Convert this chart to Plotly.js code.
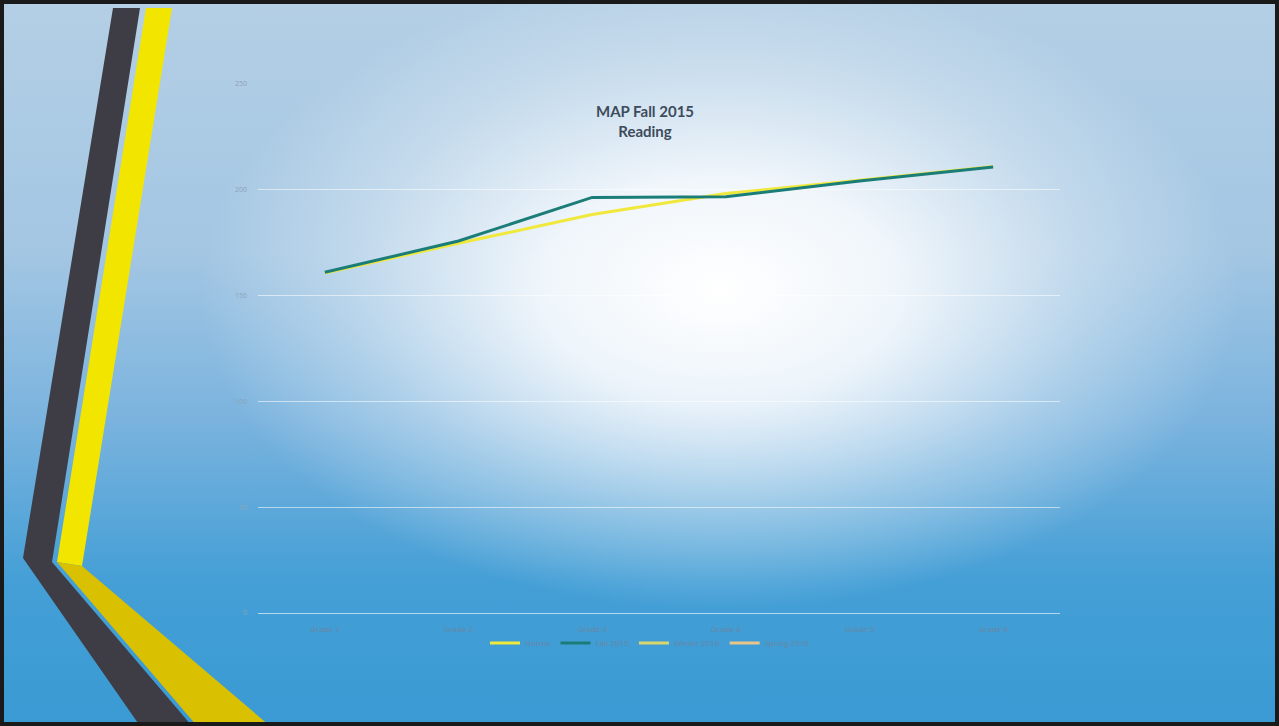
<!DOCTYPE html>
<html>
<head>
<meta charset="utf-8">
<script src="https://cdn.plot.ly/plotly-3.0.1.min.js"></script>
<style>
  html, body { margin: 0; padding: 0; width: 1279px; height: 726px; overflow: hidden; background: #111; }
  #wrap { position: absolute; left: 0; top: 0; width: 1279px; height: 726px;
    background:
      radial-gradient(ellipse 520px 320px at 720px 290px, rgba(255,255,255,1) 0%, rgba(250,252,254,0.88) 35%, rgba(240,246,250,0.4) 70%, rgba(255,255,255,0) 100%),
      linear-gradient(to bottom, #b4cfe5 0%, #a3c6e3 35%, #7ab3de 58%, #449fd6 80%, #3a9ad3 100%);
  }
  #deco { position: absolute; left: 0; top: 0; }
  #chart { position: absolute; left: 0; top: 0; width: 1279px; height: 726px; }
</style>
</head>
<body>
<div id="wrap">
  <svg id="deco" width="1279" height="726" viewBox="0 0 1279 726">
    <polygon points="113,8 140,8 52,562 192,726 140,726 23,558" fill="#3e3d45"/>
    <polygon points="146,8 172,8 82,566 57,562" fill="#f2e600"/>
    <polygon points="57,562 82,566 270,726 197,726" fill="#d9c000"/>
    <rect x="0" y="0" width="1279" height="726" fill="none" stroke="#1a1a1a" stroke-width="8"/>
  </svg>
  <div id="chart"></div>
</div>
<script>
const categories = ["Grade 1", "Grade 2", "Grade 3", "Grade 4", "Grade 5", "Grade 6"];
const norms      = [160.7, 174.7, 188.3, 198.2, 204.5, 211.0];
const fall2015   = [161, 175.8, 196.4, 196.7, 204.2, 210.8];
const winter2016 = [null, null, null, null, null, null];
const spring2016 = [null, null, null, null, null, null];
const seriesNames = ["Norms", "Fall 2015", "Winter 2016", "Spring 2016"];
const yTicks = [0, 50, 100, 150, 200, 250];

const traces = [
  { x: categories, y: norms, name: seriesNames[0], type: "scatter", mode: "lines",
    line: { color: "#f0e83a", width: 3 } },
  { x: categories, y: fall2015, name: seriesNames[1], type: "scatter", mode: "lines",
    line: { color: "#1b7d78", width: 3 } },
  { x: categories, y: winter2016, name: seriesNames[2], type: "scatter", mode: "lines",
    line: { color: "#d9d66c", width: 3 } },
  { x: categories, y: spring2016, name: seriesNames[3], type: "scatter", mode: "lines",
    line: { color: "#e9c58a", width: 3 } }
];

const layout = {
  width: 1279, height: 726,
  paper_bgcolor: "rgba(0,0,0,0)",
  plot_bgcolor: "rgba(0,0,0,0)",
  margin: { l: 258, r: 219, t: 84, b: 113, pad: 0 },
  font: { family: "Open Sans, Lato, sans-serif", size: 8, color: "#7d93a8" },
  title: {
    text: "<b>MAP Fall 2015<br>Reading</b>",
    font: { family: "Lato, Open Sans, sans-serif", size: 15, color: "#3d4c5c" },
    xref: "container", x: 645 / 1279, xanchor: "center",
    yref: "container", y: 1 - 117 / 726, yanchor: "middle"
  },
  xaxis: {
    type: "category",
    showgrid: false, zeroline: false, showline: false,
    ticks: "", tickfont: { size: 8, color: "#6a86a3" }, ticklabelstandoff: 10,
    range: [-0.5, 5.5]
  },
  yaxis: {
    range: [0, 250], tickvals: yTicks,
    showgrid: true, gridcolor: "rgba(255,255,255,0.55)", gridwidth: 1,
    zeroline: true, zerolinecolor: "rgba(255,255,255,0.6)", zerolinewidth: 1,
    showline: false, ticks: "",
    tickfont: { size: 7, color: "#8da3b7" }, ticklabelstandoff: 10
  },
  showlegend: true,
  legend: {
    orientation: "h",
    xref: "container", x: 650 / 1279, xanchor: "center",
    yref: "container", y: 1 - 643 / 726, yanchor: "middle",
    font: { size: 8, color: "#6a86a3" },
    bgcolor: "rgba(0,0,0,0)",
    itemwidth: 30
  }
};

Plotly.newPlot("chart", traces, layout, { displayModeBar: false, staticPlot: true });
</script>
</body>
</html>
